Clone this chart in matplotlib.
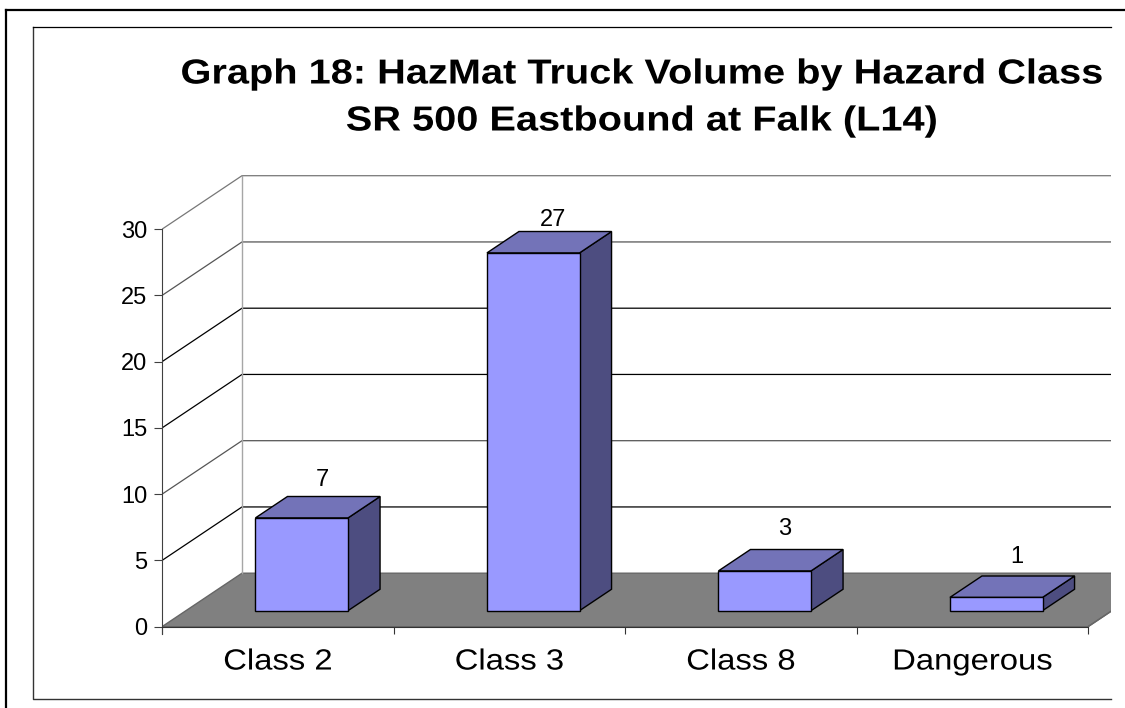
from matplotlib import pyplot as plt
from matplotlib.patches import Polygon, Rectangle
from matplotlib.patheffects import AbstractPathEffect
from matplotlib.transforms import IdentityTransform

plt.rcParams["font.family"] = ["Liberation Sans", "DejaVu Sans"]

title_lines = ["Graph 18: HazMat Truck Volume by Hazard Class", "SR 500 Eastbound at Falk (L14)"]
categories = ["Class 2", "Class 3", "Class 8", "Dangerous"]
values = [7, 27, 3, 1]
y_ticks = [0, 5, 10, 15, 20, 25, 30]

WIDTH = 1125
HEIGHT = 708
CAT_PX = 231.5     # width of one category
UNIT_PX = 13.25    # height of one y unit
DX = 80 / CAT_PX   # depth of the chart, in x units
DY = 53.5 / UNIT_PX  # depth of the chart, in y units
BAR_LEFT = 0.3
BAR_WIDTH = 0.4
BAR_D0 = 0.3
BAR_D1 = 0.7

FRONT = "#9999ff"
TOP = "#7373b8"
SIDE = "#4d4d80"


# the reference has wide letter spacing, so widen the text around its middle
class StretchX(AbstractPathEffect):
    def __init__(self, factor):
        super().__init__()
        self.factor = factor

    def draw_path(self, renderer, gc, tpath, affine, rgbFace=None):
        path = affine.transform_path(tpath)
        verts = path.vertices.copy()
        mid = (verts[:, 0].min() + verts[:, 0].max()) / 2
        verts[:, 0] = mid + (verts[:, 0] - mid) * self.factor
        path.vertices = verts
        renderer.draw_path(gc, path, IdentityTransform(), rgbFace)


def depth(x, v, d):
    return (x + d * DX, v + d * DY)


def draw_bar(ax, i, val):
    x0 = i + BAR_LEFT
    x1 = x0 + BAR_WIDTH
    front = [depth(x0, 0, BAR_D0), depth(x1, 0, BAR_D0), depth(x1, val, BAR_D0), depth(x0, val, BAR_D0)]
    top = [depth(x0, val, BAR_D0), depth(x1, val, BAR_D0), depth(x1, val, BAR_D1), depth(x0, val, BAR_D1)]
    side = [depth(x1, 0, BAR_D0), depth(x1, 0, BAR_D1), depth(x1, val, BAR_D1), depth(x1, val, BAR_D0)]
    ax.add_patch(Polygon(side, facecolor=SIDE, edgecolor="black", lw=1, zorder=4))
    ax.add_patch(Polygon(top, facecolor=TOP, edgecolor="black", lw=1, zorder=4))
    ax.add_patch(Polygon(front, facecolor=FRONT, edgecolor="black", lw=1, zorder=5))


fig = plt.figure(figsize=(WIDTH / 100, HEIGHT / 100), dpi=100)

# page layer: frames and title, in pixels
page = fig.add_axes([0, 0, 1, 1], zorder=3)
page.set_xlim(0, WIDTH)
page.set_ylim(HEIGHT, 0)
page.axis("off")
page.patch.set_alpha(0)
page.plot([6, 6], [10, 708], color="black", lw=1.6)
page.plot([6, 1125], [10, 10], color="black", lw=1.6)
page.plot([33, 33, 1111], [27, 699, 699], color="#333333", lw=1)
page.plot([33, 1111], [27, 27], color="black", lw=0.9)
for line, y in zip(title_lines, [74, 121]):
    page.text(641.5, y, line, ha="center", va="center", fontsize=25, fontweight="bold",
              path_effects=[StretchX(1.145)])

# chart: x in categories, y in values
left, right, top_px, bottom_px = 162, 1111, 27, 699
y0_px = 626.7
ax = fig.add_axes([left / WIDTH, 1 - bottom_px / HEIGHT, (right - left) / WIDTH, (bottom_px - top_px) / HEIGHT])
ax.set_xlim(0, (right - left) / CAT_PX)
ax.set_ylim((y0_px - bottom_px) / UNIT_PX, (y0_px - top_px) / UNIT_PX)
ax.patch.set_alpha(0)

n = len(categories)
ax.add_patch(Polygon([(0, 0), (n, 0), depth(n, 0, 1), depth(0, 0, 1)], facecolor="#808080", edgecolor="#666666", lw=1, zorder=1))

grid_colors = ["#666666", "black", "#555555", "black", "black", "#555555", "#777777"]
for v, c in zip(y_ticks, grid_colors):
    if v > 0:
        ax.plot([0, DX, n + DX], [v, v + DY, v + DY], color=c, lw=0.9, zorder=2)
ax.plot([DX, DX], [DY, max(y_ticks) + DY], color="#a6a6a6", lw=1, zorder=2)
ax.plot([n, n + DX], [0, DY], color="#666666", lw=1, zorder=2)

for i, val in enumerate(values):
    draw_bar(ax, i, val)

lifts = [27, 22, 31, 30]
for i, val in enumerate(values):
    x, y = depth(i + BAR_LEFT + BAR_WIDTH / 2, val, 0.5)
    ax.annotate(str(val), (x, y), xytext=(3, lifts[i] * 0.72), textcoords="offset points",
                ha="center", va="center", fontsize=17, zorder=6)

for side_name in ["top", "right"]:
    ax.spines[side_name].set_visible(False)
ax.spines["bottom"].set_position(("data", 0))
ax.spines["bottom"].set_bounds(0, n)
ax.spines["left"].set_bounds(-0.55, max(y_ticks))
ax.spines["left"].set_color("#404040")
ax.spines["bottom"].set_color("#333333")
ax.set_yticks(y_ticks)
ax.tick_params(axis="y", length=5.5, width=0.8, color="#404040", labelsize=17, pad=5)
ax.set_xticks(range(n + 1))
ax.set_xticklabels([])
ax.tick_params(axis="x", which="major", length=5, width=0.8, color="#333333")
ax.set_xticks([i + 0.5 for i in range(n)], minor=True)
ax.set_xticklabels(categories, minor=True)
ax.tick_params(axis="x", which="minor", length=0, labelsize=21, pad=15)
for label in ax.get_xticklabels(minor=True):
    label.set_path_effects([StretchX(1.125)])

# the picture is cut off on the right
page.add_patch(Rectangle((1112, 12), 13, 696, facecolor="white", edgecolor="none", zorder=1))

fig.savefig("out.png", dpi=100)
plt.close()
